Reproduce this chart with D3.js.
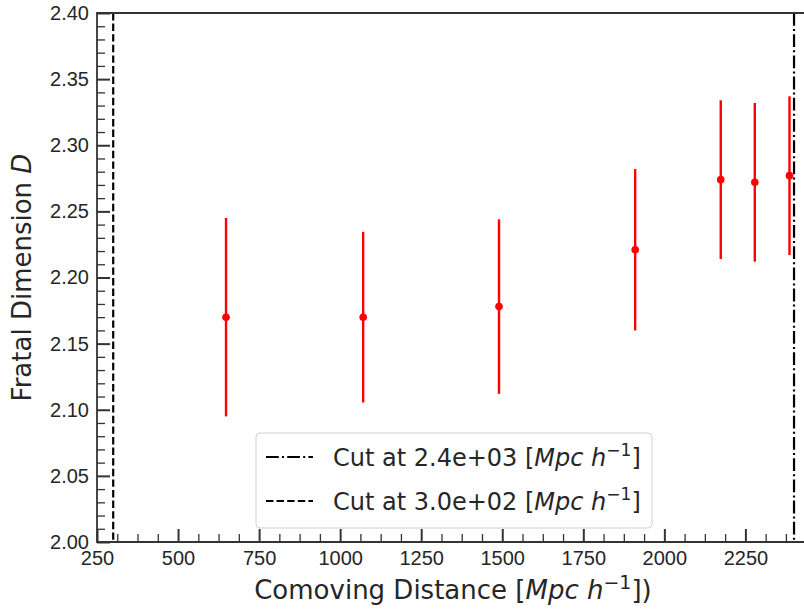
<!DOCTYPE html>
<html>
<head>
<meta charset="utf-8">
<script src="https://cdn.jsdelivr.net/npm/d3@7"></script>
<style>
  body { margin: 0; background: #fff; }
  svg { font-family: "DejaVu Sans", sans-serif; }
  .tick text { fill: #262626; }
</style>
</head>
<body>
<script>
// data
var distance = [648, 1071, 1490, 1910, 2174, 2279, 2386];
var fractalD = [2.170, 2.170, 2.178, 2.221, 2.274, 2.272, 2.277];
var dErr = [0.075, 0.0645, 0.066, 0.061, 0.060, 0.060, 0.060];
var cuts = [2400, 300];
var cutLabels = ["Cut at 2.4e+03", "Cut at 3.0e+02"];
var cutDash = ["12.8,3.2,2,3.2", "7.4,3.2"];
var xTicks = [250, 500, 750, 1000, 1250, 1500, 1750, 2000, 2250];
var yTicks = [2.00, 2.05, 2.10, 2.15, 2.20, 2.25, 2.30, 2.35, 2.40];

var width = 804, height = 610;
var margin = { top: 13, right: -3, bottom: 68, left: 97 };
var w = width - margin.left - margin.right;
var h = height - margin.top - margin.bottom;

var svg = d3.select("body").append("svg")
    .attr("width", width)
    .attr("height", height);

var g = svg.append("g")
    .attr("transform", "translate(" + margin.left + "," + margin.top + ")");

var x = d3.scaleLinear().domain([250, 2440]).range([0, w]);
var y = d3.scaleLinear().domain([2.0, 2.4]).range([h, 0]);

g.append("clipPath").attr("id", "clip")
    .append("rect").attr("width", w).attr("height", h);

// vertical cut lines
g.selectAll(".cut")
    .data(cuts)
    .enter()
    .append("line")
    .attr("class", "cut")
    .attr("x1", d => x(d)).attr("x2", d => x(d))
    .attr("y1", 0).attr("y2", h)
    .attr("stroke", "#000")
    .attr("stroke-width", 2.2)
    .attr("stroke-dasharray", (d, i) => cutDash[i]);

// error bars
var pts = g.append("g").attr("clip-path", "url(#clip)");
pts.selectAll(".err")
    .data(distance)
    .enter()
    .append("line")
    .attr("class", "err")
    .attr("x1", d => x(d)).attr("x2", d => x(d))
    .attr("y1", (d, i) => y(fractalD[i] - dErr[i]))
    .attr("y2", (d, i) => y(fractalD[i] + dErr[i]))
    .attr("stroke", "#ff0000")
    .attr("stroke-width", 2.4);

pts.selectAll(".dot")
    .data(distance)
    .enter()
    .append("circle")
    .attr("class", "dot")
    .attr("cx", d => x(d))
    .attr("cy", (d, i) => y(fractalD[i]))
    .attr("r", 3.8)
    .attr("fill", "#ff0000");

// minor ticks
var xMinor = d3.range(250, 2440, 62.5).filter(v => xTicks.indexOf(v) < 0);
var yMinor = d3.range(0, 41).map(k => 2 + k / 100).filter((v, k) => k % 5 != 0);

g.append("g")
    .attr("transform", "translate(0," + h + ")")
    .call(d3.axisBottom(x).tickValues(xMinor).tickSize(-8).tickFormat(""))
    .call(a => a.select(".domain").remove())
    .selectAll("line").attr("stroke", "#333").attr("stroke-width", 1.3);

g.append("g")
    .call(d3.axisLeft(y).tickValues(yMinor).tickSize(-8).tickFormat(""))
    .call(a => a.select(".domain").remove())
    .selectAll("line").attr("stroke", "#333").attr("stroke-width", 1.3);

// major ticks
var xAxis = g.append("g")
    .attr("transform", "translate(0," + h + ")")
    .call(d3.axisBottom(x).tickValues(xTicks).tickSize(-13).tickPadding(9).tickFormat(d3.format("d")));
xAxis.select(".domain").remove();
xAxis.selectAll("line").attr("stroke", "#333").attr("stroke-width", 2);
xAxis.selectAll("text").attr("font-size", 20);

var yAxis = g.append("g")
    .call(d3.axisLeft(y).tickValues(yTicks).tickSize(-13).tickPadding(8).tickFormat(d3.format(".2f")));
yAxis.select(".domain").remove();
yAxis.selectAll("line").attr("stroke", "#333").attr("stroke-width", 2);
yAxis.selectAll("text").attr("font-size", 20);

// spines
g.append("path")
    .attr("d", "M" + (w + 5) + ",0H0V" + h + "H" + (w + 5))
    .attr("fill", "none")
    .attr("stroke", "#333")
    .attr("stroke-width", 1.8);

// axis labels
var xl = svg.append("text")
    .attr("x", 453)
    .attr("y", 599)
    .attr("text-anchor", "middle")
    .attr("font-size", 26)
    .attr("fill", "#262626");
xl.append("tspan").text("Comoving Distance [");
xl.append("tspan").attr("font-style", "italic").text("Mpc h");
xl.append("tspan").attr("font-size", 19).attr("dy", -10).text("\u22121");
xl.append("tspan").attr("dy", 10).text("])");

var yl = svg.append("text")
    .attr("transform", "translate(31," + (margin.top + h / 2) + ") rotate(-90)")
    .attr("text-anchor", "middle")
    .attr("font-size", 26)
    .attr("fill", "#262626");
yl.append("tspan").text("Fratal Dimension ");
yl.append("tspan").attr("font-style", "italic").text("D");

// legend
var lg = svg.append("g").attr("transform", "translate(256,433)");
lg.append("rect")
    .attr("width", 396).attr("height", 95)
    .attr("rx", 4)
    .attr("fill", "#fff").attr("fill-opacity", 0.8)
    .attr("stroke", "#d0d0d0");

var rows = lg.selectAll(".row")
    .data(cutLabels)
    .enter()
    .append("g")
    .attr("class", "row")
    .attr("transform", (d, i) => "translate(0," + (24 + i * 44) + ")");

rows.append("line")
    .attr("x1", 10).attr("x2", 57)
    .attr("stroke", "#000").attr("stroke-width", 2.2)
    .attr("stroke-dasharray", (d, i) => cutDash[i]);

var lt = rows.append("text")
    .attr("x", 77).attr("y", 9)
    .attr("font-size", 24)
    .attr("fill", "#262626");
lt.append("tspan").text(d => d + " [");
lt.append("tspan").attr("font-style", "italic").text("Mpc h");
lt.append("tspan").attr("font-size", 17).attr("dy", -10).text("\u22121");
lt.append("tspan").attr("dy", 10).text("]");
</script>
</body>
</html>
